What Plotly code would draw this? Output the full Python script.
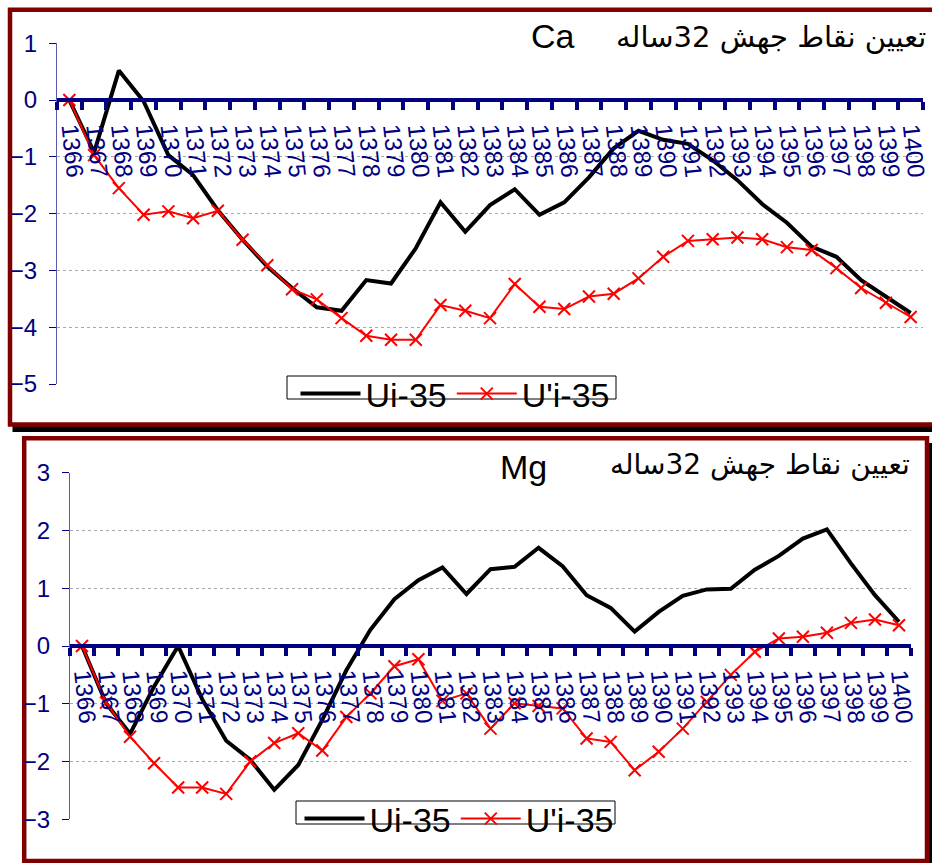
import plotly.graph_objects as go

W, H = 932, 863

years = ["1366", "1367", "1368", "1369", "1370", "1371", "1372", "1373", "1374", "1375",
         "1376", "1377", "1378", "1379", "1380", "1381", "1382", "1383", "1384", "1385",
         "1386", "1387", "1388", "1389", "1390", "1391", "1392", "1393", "1394", "1395",
         "1396", "1397", "1398", "1399", "1400"]

ca_ui = [0, -0.92, 0.52, -0.02, -0.97, -1.32, -1.94, -2.46, -2.93, -3.31,
         -3.65, -3.71, -3.17, -3.23, -2.61, -1.80, -2.32, -1.85, -1.57, -2.02,
         -1.80, -1.36, -0.85, -0.54, -0.70, -0.77, -1.06, -1.41, -1.83, -2.16,
         -2.58, -2.76, -3.17, -3.46, -3.75]
ca_upi = [0, -0.97, -1.55, -2.02, -1.96, -2.08, -1.95, -2.46, -2.91, -3.33,
          -3.51, -3.84, -4.15, -4.22, -4.22, -3.61, -3.71, -3.84, -3.24, -3.64,
          -3.68, -3.46, -3.41, -3.14, -2.76, -2.48, -2.45, -2.42, -2.45, -2.59,
          -2.64, -2.96, -3.31, -3.57, -3.82]
mg_ui = [0, -0.99, -1.52, -0.70, 0.0, -0.92, -1.64, -1.97, -2.49, -2.06,
         -1.28, -0.42, 0.28, 0.81, 1.14, 1.36, 0.90, 1.33, 1.37, 1.70,
         1.38, 0.88, 0.66, 0.25, 0.59, 0.87, 0.98, 0.99, 1.32, 1.56,
         1.86, 2.02, 1.43, 0.88, 0.42]
mg_upi = [0, -0.98, -1.57, -2.03, -2.45, -2.45, -2.56, -2.00, -1.68, -1.51,
          -1.81, -1.23, -0.82, -0.35, -0.23, -0.95, -0.82, -1.43, -0.99, -1.04,
          -1.08, -1.60, -1.66, -2.15, -1.83, -1.43, -0.97, -0.50, -0.10, 0.13,
          0.16, 0.23, 0.40, 0.46, 0.36]

series_names = ["Ui-35", "U'i-35"]
title_fa = "تعيين نقاط جهش 32ساله"
ca_label = "Ca"
mg_label = "Mg"
ca_range = [-5, 1]
mg_range = [-3, 3]

NAVY = "#000080"
DARKRED = "#800000"


def px(x):
    return x / W


def py(y):
    return 1 - y / H


fig = go.Figure()

# top panel traces
fig.add_trace(go.Scatter(x=years, y=ca_ui, name=series_names[0], mode="lines",
                         line=dict(color="black", width=4), xaxis="x", yaxis="y",
                         legend="legend"))
fig.add_trace(go.Scatter(x=years, y=ca_upi, name=series_names[1], mode="lines+markers",
                         line=dict(color="red", width=2),
                         marker=dict(symbol="x-thin", size=12, color="red",
                                     line=dict(color="red", width=2)),
                         xaxis="x", yaxis="y", legend="legend"))
# bottom panel traces
fig.add_trace(go.Scatter(x=years, y=mg_ui, name=series_names[0], mode="lines",
                         line=dict(color="black", width=4), xaxis="x2", yaxis="y2",
                         legend="legend2"))
fig.add_trace(go.Scatter(x=years, y=mg_upi, name=series_names[1], mode="lines+markers",
                         line=dict(color="red", width=2),
                         marker=dict(symbol="x-thin", size=12, color="red",
                                     line=dict(color="red", width=2)),
                         xaxis="x2", yaxis="y2", legend="legend2"))

# geometry (pixels)
top_x = (57, 923)
top_y = (43.3, 384)      # y=1 ... y=-5
bot_x = (70, 911)
bot_y = (472.7, 819.3)   # y=3 ... y=-3


def zero_pos(ytop, ybot, rng):
    frac = (0 - rng[0]) / (rng[1] - rng[0])
    pix = ybot - frac * (ybot - ytop)
    return py(pix)


xcommon = dict(type="category", showline=True, linecolor=NAVY, linewidth=4,
               ticks="outside", tickson="boundaries", ticklen=8, tickwidth=4,
               tickcolor=NAVY, tickangle=84, showgrid=False, zeroline=False,
               tickmode="array", tickvals=years, ticktext=years,
               range=[-0.5, len(years) - 0.5], automargin=False,
               ticklabelstandoff=5, ticklabelshift=4,
               tickfont=dict(family="Arial, Liberation Sans", size=24, color=NAVY),
               anchor="free", fixedrange=True)
ycommon = dict(showline=True, linecolor="#5a5aaa", linewidth=1, ticks="outside",
               ticklen=7, tickwidth=1, tickcolor=NAVY, dtick=1, automargin=False,
               showgrid=True, gridcolor="#a8a8a8", griddash="dot", gridwidth=1,
               zeroline=False, ticklabelstandoff=7,
               tickfont=dict(family="Arial, Liberation Sans", size=24, color=NAVY))

fig.update_layout(
    xaxis=dict(xcommon, domain=[px(top_x[0]), px(top_x[1])],
               position=zero_pos(top_y[0], top_y[1], ca_range)),
    yaxis=dict(ycommon, domain=[py(top_y[1]), py(top_y[0])], range=ca_range,
               anchor="x"),
    xaxis2=dict(xcommon, domain=[px(bot_x[0]), px(bot_x[1])],
                position=zero_pos(bot_y[0], bot_y[1], mg_range)),
    yaxis2=dict(ycommon, domain=[py(bot_y[1]), py(bot_y[0])], range=mg_range,
                anchor="x2"),
)

legend_common = dict(orientation="h", xanchor="center", yanchor="middle",
                     bgcolor="rgba(0,0,0,0)", borderwidth=0, itemwidth=60,
                     font=dict(family="Arial, Liberation Sans", size=34, color="black"),
                     tracegroupgap=0, itemclick=False, itemdoubleclick=False)
fig.update_layout(
    legend=dict(legend_common, x=px(455), y=py(394)),
    legend2=dict(legend_common, x=px(459), y=py(819)),
)

shapes = []
# top panel shadow and border
shapes.append(dict(type="rect", xref="paper", yref="paper", layer="below",
                   x0=px(12.5), x1=px(960), y0=py(14), y1=py(432),
                   fillcolor="black", line=dict(width=0)))
shapes.append(dict(type="rect", xref="paper", yref="paper", layer="below",
                   x0=px(10), x1=px(950), y0=py(9.7), y1=py(424.5),
                   fillcolor="white", line=dict(color=DARKRED, width=4.5)))
# bottom panel shadow and border
shapes.append(dict(type="rect", xref="paper", yref="paper", layer="below",
                   x0=px(29), x1=px(932), y0=py(443), y1=py(880),
                   fillcolor="black", line=dict(width=0)))
shapes.append(dict(type="rect", xref="paper", yref="paper", layer="below",
                   x0=px(24.2), x1=px(927), y0=py(438.3), y1=py(861),
                   fillcolor="white", line=dict(color=DARKRED, width=4.5)))
# legend boxes
shapes.append(dict(type="rect", xref="paper", yref="paper", layer="above",
                   x0=px(287), x1=px(616), y0=py(376), y1=py(399),
                   fillcolor="white", line=dict(color="black", width=1)))
shapes.append(dict(type="rect", xref="paper", yref="paper", layer="above",
                   x0=px(296), x1=px(615), y0=py(801), y1=py(824),
                   fillcolor="white", line=dict(color="black", width=1)))

annotations = [
    dict(text=ca_label, xref="paper", yref="paper", x=px(553), y=py(36),
         xanchor="center", yanchor="middle", showarrow=False,
         font=dict(family="Arial, Liberation Sans", size=34, color="black")),
    dict(text=title_fa, xref="paper", yref="paper", x=px(928), y=py(37),
         xanchor="right", yanchor="middle", showarrow=False,
         font=dict(family="DejaVu Sans", size=29, color="black")),
    dict(text=mg_label, xref="paper", yref="paper", x=px(523), y=py(467.5),
         xanchor="center", yanchor="middle", showarrow=False,
         font=dict(family="Arial, Liberation Sans", size=34, color="black")),
    dict(text=title_fa, xref="paper", yref="paper", x=px(912), y=py(464),
         xanchor="right", yanchor="middle", showarrow=False,
         font=dict(family="DejaVu Sans", size=28, color="black")),
]

fig.update_layout(
    width=W, height=H, autosize=False,
    margin=dict(l=0, r=0, t=0, b=0, pad=0, autoexpand=False),
    paper_bgcolor="white", plot_bgcolor="rgba(0,0,0,0)",
    shapes=shapes, annotations=annotations,
    font=dict(family="Arial, Liberation Sans", color=NAVY),
)

fig.write_html("out.html", config={"displayModeBar": False},
               post_script="document.body.style.margin='0';")
